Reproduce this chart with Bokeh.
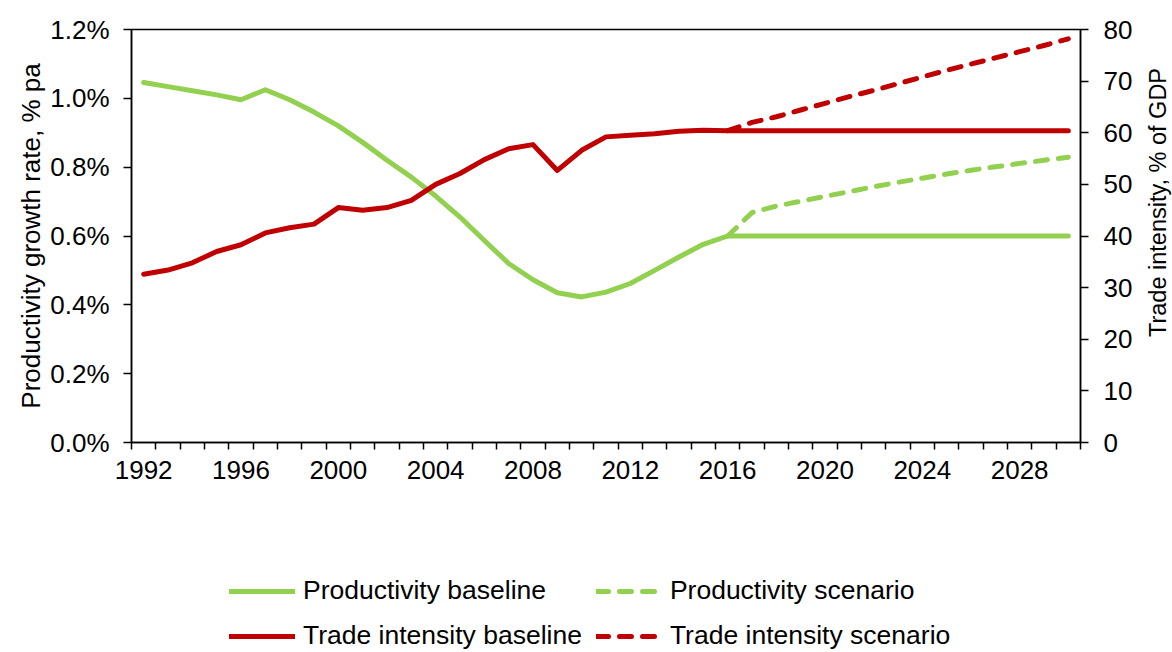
import math
from bokeh.plotting import figure
from bokeh.layouts import column, row
from bokeh.models import Range1d, LinearAxis, FixedTicker, Legend, LegendItem
from bokeh.core.properties import value
from bokeh.embed import file_html
from bokeh.resources import INLINE

# ---------------- data ----------------
years = list(range(1992, 2031))
scenario_years = list(range(2016, 2031))

prod_baseline = [1.046, 1.034, 1.022, 1.010, 0.996, 1.025, 0.996, 0.960, 0.920, 0.872,
                 0.820, 0.771, 0.716, 0.655, 0.587, 0.520, 0.473, 0.435, 0.423, 0.437,
                 0.462, 0.500, 0.539, 0.576, 0.600, 0.600, 0.600, 0.600, 0.600, 0.600,
                 0.600, 0.600, 0.600, 0.600, 0.600, 0.600, 0.600, 0.600, 0.600]
prod_scenario = [0.600, 0.668, 0.687, 0.701, 0.715, 0.729, 0.743, 0.756, 0.768, 0.780,
                 0.791, 0.801, 0.811, 0.820, 0.829]

trade_baseline = [32.6, 33.4, 34.8, 37.0, 38.3, 40.6, 41.6, 42.3, 45.5, 45.0,
                  45.5, 46.9, 50.0, 52.1, 54.8, 56.9, 57.7, 52.7, 56.6, 59.2,
                  59.5, 59.8, 60.3, 60.5, 60.4, 60.4, 60.4, 60.4, 60.4, 60.4,
                  60.4, 60.4, 60.4, 60.4, 60.4, 60.4, 60.4, 60.4, 60.4]
trade_scenario = [60.4, 62.0, 63.1, 64.4, 65.7, 67.0, 68.2, 69.5, 70.8, 72.1,
                  73.3, 74.5, 75.7, 76.9, 78.2]

x_label_years = [1992, 1996, 2000, 2004, 2008, 2012, 2016, 2020, 2024, 2028]
left_ticks = [0.0, 0.2, 0.4, 0.6, 0.8, 1.0, 1.2]
left_tick_labels = ["0.0%", "0.2%", "0.4%", "0.6%", "0.8%", "1.0%", "1.2%"]
right_ticks = [0, 10, 20, 30, 40, 50, 60, 70, 80]

left_title = "Productivity growth rate, % pa"
right_title = "Trade intensity, % of GDP"
series_names = ["Productivity baseline", "Productivity scenario",
                "Trade intensity baseline", "Trade intensity scenario"]

GREEN = "#92D050"
RED = "#C00000"
FONT = "Liberation Sans"
FS = "26px"
FS_LEG = "26.5px"
FS_RTITLE = "23.5px"
LW = 5
DASH = "12 11"

# ---------------- main figure ----------------
W_TOTAL, H_TOTAL = 1172, 652
W_TITLE = 34
W_MAIN = W_TOTAL - W_TITLE
H_MAIN = 560
H_LEG = H_TOTAL - H_MAIN
FRAME_L, FRAME_T, FRAME_W, FRAME_H = 131, 29, 949, 413
p = figure(width=W_MAIN, height=H_MAIN,
           x_range=Range1d(years[0] - 0.5, years[-1] + 0.5),
           y_range=Range1d(0, 1.2),
           output_backend="svg", toolbar_location=None,
           min_border_left=FRAME_L, min_border_right=W_MAIN - FRAME_L - FRAME_W,
           min_border_top=FRAME_T, min_border_bottom=H_MAIN - FRAME_T - FRAME_H)
p.extra_y_ranges = {"trade": Range1d(0, 80)}
p.grid.grid_line_color = None
p.outline_line_color = "black"
p.outline_line_width = 1.5
p.background_fill_color = "white"
p.border_fill_color = "white"

# x axis: labels at category centres, tick marks between categories
xa = p.xaxis[0]
xa.ticker = FixedTicker(ticks=x_label_years,
                        minor_ticks=[y - 0.5 for y in years] + [years[-1] + 0.5])
xa.major_label_overrides = {y: str(y) for y in x_label_years}
xa.major_tick_line_color = None
xa.major_tick_out = 0
xa.major_tick_in = 0
xa.minor_tick_line_color = "black"
xa.minor_tick_line_width = 1.5
xa.minor_tick_out = 7
xa.minor_tick_in = 0
xa.major_label_standoff = 11

# left axis
ya = p.yaxis[0]
ya.ticker = FixedTicker(ticks=left_ticks)
ya.major_label_overrides = dict(zip(left_ticks, left_tick_labels))
ya.minor_tick_line_color = None
ya.axis_label = left_title
ya.axis_label_standoff = 1
ya.major_label_standoff = 14

# right axis (its title is drawn in the narrow strip to the right)
ra = LinearAxis(y_range_name="trade")
ra.ticker = FixedTicker(ticks=right_ticks)
ra.minor_tick_line_color = None
ra.major_label_standoff = 15
p.add_layout(ra, "right")

for ax in [xa, ya, ra]:
    ax.axis_line_color = "black"
    ax.axis_line_width = 1.5
    ax.major_label_text_font = FONT
    ax.major_label_text_font_size = FS
    ax.major_label_text_color = "black"
    ax.axis_label_text_font = FONT
    ax.axis_label_text_font_size = FS
    ax.axis_label_text_font_style = "normal"
    ax.axis_label_text_color = "black"
for ax in [ya, ra]:
    ax.major_tick_line_color = "black"
    ax.major_tick_line_width = 1.5
    ax.major_tick_out = 8
    ax.major_tick_in = 0

styles = [dict(line_color=GREEN), dict(line_color=GREEN, line_dash=DASH),
          dict(line_color=RED), dict(line_color=RED, line_dash=DASH)]

p.line(years, prod_baseline, line_width=LW, line_cap="round", line_join="round", **styles[0])
p.line(scenario_years, prod_scenario, line_width=LW, line_cap="round", line_join="round", **styles[1])
p.line(years, trade_baseline, line_width=LW, line_cap="round", line_join="round",
       y_range_name="trade", **styles[2])
p.line(scenario_years, trade_scenario, line_width=LW, line_cap="round", line_join="round",
       y_range_name="trade", **styles[3])

# ---------------- legend strip ----------------
pl = figure(width=W_MAIN, height=H_LEG, x_range=Range1d(0, 1), y_range=Range1d(0, 1),
            output_backend="svg", toolbar_location=None,
            x_axis_location=None, y_axis_location=None,
            min_border=0, outline_line_color=None)
pl.grid.grid_line_color = None
pl.background_fill_color = "white"
pl.border_fill_color = "white"
nan = float("nan")
leg_renderers = [pl.line(x=[nan, nan], y=[nan, nan], line_width=LW, line_cap="round", **st)
                 for st in styles]

legend = Legend(items=[LegendItem(label=n, renderers=[r]) for n, r in zip(series_names, leg_renderers)],
                location=(98, 1), orientation="horizontal", ncols=2,
                glyph_width=66, glyph_height=20, label_standoff=8,
                label_height=30, spacing=14, padding=0, margin=0,
                border_line_color=None, background_fill_alpha=0,
                label_text_font=FONT, label_text_font_size=FS_LEG,
                label_text_color="black")
pl.add_layout(legend)

# ---------------- right-axis title strip ----------------
pt = figure(width=W_TITLE, height=H_TOTAL, x_range=Range1d(0, W_TITLE), y_range=Range1d(0, H_TOTAL),
            output_backend="svg", toolbar_location=None,
            x_axis_location=None, y_axis_location=None,
            min_border=0, outline_line_color=None)
pt.grid.grid_line_color = None
pt.background_fill_color = "white"
pt.border_fill_color = "white"
pt.text(x=[19], y=[450], text=[right_title], angle=math.pi / 2,
        text_align="center", text_baseline="middle",
        text_font=value(FONT), text_font_size=FS_RTITLE, text_color="black")

layout = row(column(p, pl, spacing=0), pt, spacing=0)
open("out.html", "w").write(file_html(layout, INLINE))
